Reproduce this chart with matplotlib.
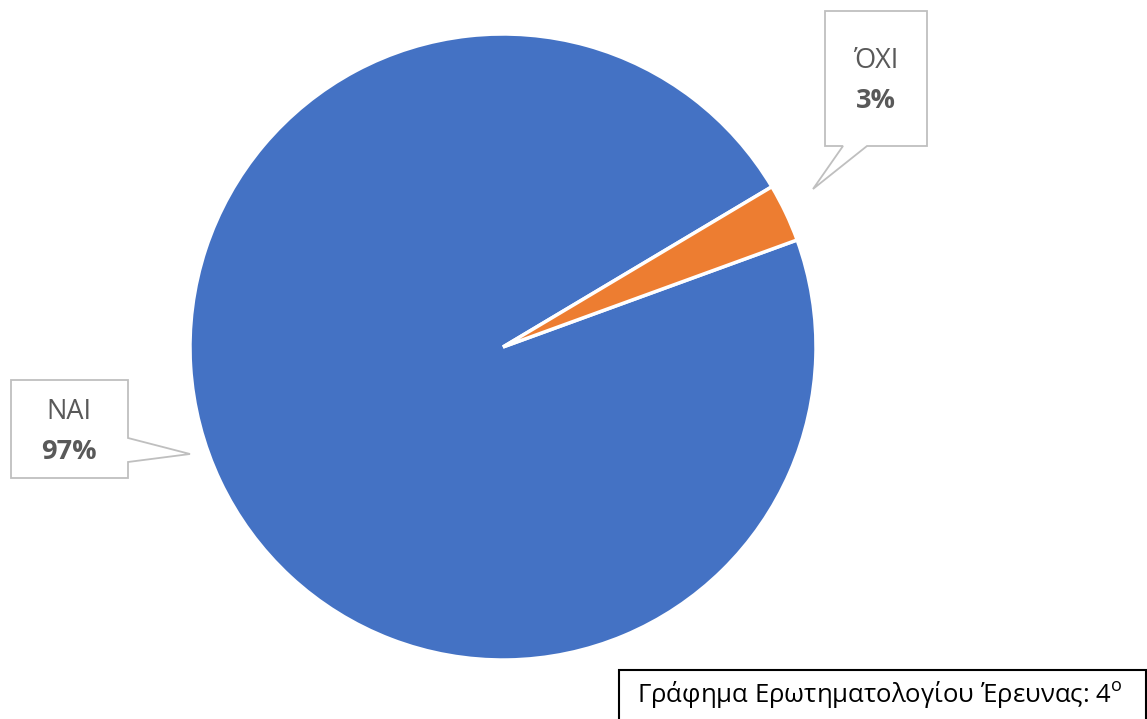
import matplotlib.pyplot as plt
from matplotlib.patches import Polygon, Rectangle

labels = ['ΝΑΙ', 'ΌΧΙ']
values = [97, 3]
colors = ['#4472C4', '#ED7D31']
caption = 'Γράφημα Ερωτηματολογίου Έρευνας: 4'

plt.rcParams['font.family'] = ['Open Sans', 'DejaVu Sans']
plt.rcParams['mathtext.fontset'] = 'custom'
plt.rcParams['mathtext.rm'] = 'Open Sans'

W, H = 1147, 719
fig = plt.figure(figsize=(W / 100, H / 100), dpi=100)

# pie: centre (503,347) px, radius 313 px
cx, cy, r = 503, 347, 313
ax = fig.add_axes([(cx - r) / W, (H - cy - r) / H, 2 * r / W, 2 * r / H])
ax.pie(values, colors=colors, startangle=20, counterclock=False,
       wedgeprops=dict(edgecolor='white', linewidth=2.5))
ax.set_xlim(-1, 1)
ax.set_ylim(-1, 1)
ax.set_aspect('equal')
ax.axis('off')

# overlay in pixel coordinates for callouts
ov = fig.add_axes([0, 0, 1, 1], facecolor='none')
ov.set_xlim(0, W)
ov.set_ylim(H, 0)
ov.axis('off')

grey = '#BFBFBF'
# ΌΧΙ callout
ov.add_patch(Polygon([(825, 11), (927, 11), (927, 146), (867, 146), (813, 189),
                      (843, 146), (825, 146)], closed=True, fc='white', ec=grey, lw=1.3))
# ΝΑΙ callout
ov.add_patch(Polygon([(11, 380), (128, 380), (128, 438), (190, 454), (128, 462),
                      (128, 478), (11, 478)], closed=True, fc='white', ec=grey, lw=1.3))

total = sum(values)
pos = {'ΝΑΙ': (69, 412), 'ΌΧΙ': (876, 61)}
for lab, v in zip(labels, values):
    x, y = pos[lab]
    ov.text(x, y, lab, ha='center', va='center', fontsize=19.5, color='#595959')
    ov.text(x, y + 40, f'{round(100 * v / total)}%', ha='center', va='center',
            fontsize=19.5, color='#595959', fontweight='bold')

# caption box
ov.add_patch(Rectangle((619, 670), 527, 60, fc='white', ec='black', lw=1.5, clip_on=False))
ov.text(637, 694, caption + r'$^{\mathrm{o}}$', ha='left', va='center',
        fontsize=18.5, color='black')

fig.savefig('out.png', dpi=100)
